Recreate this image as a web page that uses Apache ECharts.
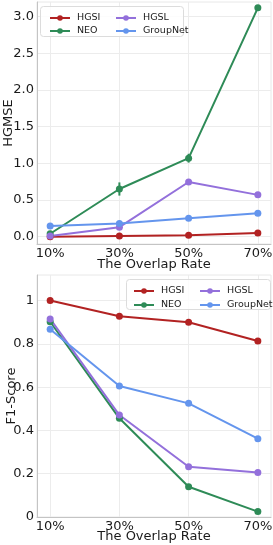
<!DOCTYPE html>
<html>
<head>
<meta charset="utf-8">
<script src="https://cdn.jsdelivr.net/npm/echarts@6/dist/echarts.min.js"></script>
<style>
html,body{margin:0;padding:0;background:#fff;}
#chart{width:273px;height:545px;}
</style>
</head>
<body>
<div id="chart"></div>
<script>
// ---- data ----
var categories = ['10%', '30%', '50%', '70%'];
var seriesNames = ['HGSI', 'NEO', 'HGSL', 'GroupNet'];

var hgmseHGSI = [0.0, 0.01, 0.02, 0.05];
var hgmseNEO = [0.04, 0.65, 1.07, 3.12];
var hgmseHGSL = [0.01, 0.13, 0.745, 0.57];
var hgmseGroupNet = [0.145, 0.18, 0.25, 0.32];
var hgmseNEOErr = [0.0, 0.09, 0.06, 0.0];

var f1HGSI = [1.0, 0.927, 0.90, 0.813];
var f1NEO = [0.902, 0.456, 0.14, 0.025];
var f1HGSL = [0.915, 0.471, 0.232, 0.206];
var f1GroupNet = [0.867, 0.605, 0.525, 0.362];

var xTicks = [0, 1, 2, 3];
var hgmseTicks = [0, 0.5, 1, 1.5, 2, 2.5, 3];
var hgmseTickLabels = ['0.0', '0.5', '1.0', '1.5', '2.0', '2.5', '3.0'];
var f1Ticks = [0, 0.2, 0.4, 0.6, 0.8, 1];
var f1TickLabels = ['0', '0.2', '0.4', '0.6', '0.8', '1'];

var xTitle = 'The Overlap Rate';
var yTitleTop = 'HGMSE';
var yTitleBottom = 'F1-Score';

// ---- styles ----
var colors = { HGSI: '#b22222', NEO: '#2e8b57', HGSL: '#9370db', GroupNet: '#6495ed' };
var FONT = 'DejaVu Sans';
var TXT = '#1a1a1a';
var FS = 13;

function pts(arr) { return arr.map(function (v, i) { return [i, v]; }); }
function lookup(vals, labels) {
  return function (v) {
    for (var i = 0; i < vals.length; i++) if (Math.abs(vals[i] - v) < 1e-9) return labels[i];
    return '';
  };
}

var chart = echarts.init(document.getElementById('chart'), null, { renderer: 'canvas' });

function xAxis(gi, gap) {
  return {
    type: 'value', gridIndex: gi, min: -0.19, max: 3.19,
    name: xTitle, nameLocation: 'middle', nameGap: gap, nameMoveOverlap: false,
    nameTextStyle: { fontFamily: FONT, fontSize: FS, color: TXT },
    axisLine: { show: true, onZero: false, lineStyle: { color: '#c4c4c4', width: 1 } },
    axisTick: { show: false, customValues: xTicks },
    axisLabel: { customValues: xTicks, margin: 3, fontFamily: FONT, fontSize: FS, color: TXT,
      formatter: function (v) { return categories[Math.round(v)]; } },
    splitLine: { show: true, lineStyle: { color: '#ececec', width: 1 } }
  };
}
function yAxis(gi, min, max, ticks, labels, name, gap) {
  return {
    type: 'value', gridIndex: gi, min: min, max: max,
    name: name, nameLocation: 'middle', nameGap: gap, nameRotate: 90, nameMoveOverlap: false,
    nameTextStyle: { fontFamily: FONT, fontSize: FS, color: TXT },
    axisLine: { show: true, onZero: false, lineStyle: { color: '#c4c4c4', width: 1 } },
    axisTick: { show: false, customValues: ticks },
    axisLabel: { customValues: ticks, margin: 3, fontFamily: FONT, fontSize: FS, color: TXT,
      formatter: lookup(ticks, labels) },
    splitLine: { show: true, lineStyle: { color: '#ececec', width: 1 } }
  };
}

function lineSeries(name, data, gi) {
  return {
    type: 'line', name: name, xAxisIndex: gi, yAxisIndex: gi,
    data: pts(data), symbol: 'circle', symbolSize: 7, showSymbol: true,
    lineStyle: { width: 2, color: colors[name] },
    itemStyle: { color: colors[name] },
    z: 3, animation: false
  };
}

var errData = hgmseNEO.map(function (v, i) { return [i, v, hgmseNEOErr[i]]; }).filter(function (d) { return d[2] > 0; });

var legendCommon = {
  orient: 'vertical', itemWidth: 20, itemHeight: 7, itemGap: 3,
  textStyle: { fontFamily: FONT, fontSize: 9.5, color: TXT, padding: [0, 0, 0, 2] },
  selectedMode: false, z: 10
};

var gridCommon = { left: 37, right: 2, height: 242, show: true, borderColor: '#e8e8e8', borderWidth: 1,
  backgroundColor: 'transparent', containLabel: false, outerBoundsMode: 'none' };

var option = {
  animation: false,
  backgroundColor: '#ffffff',
  grid: [
    Object.assign({}, gridCommon, { top: 2 }),
    Object.assign({}, gridCommon, { top: 275 })
  ],
  xAxis: [xAxis(0, 14), xAxis(1, 13)],
  yAxis: [
    yAxis(0, -0.1, 3.2, hgmseTicks, hgmseTickLabels, yTitleTop, 22),
    yAxis(1, 0, 1.118, f1Ticks, f1TickLabels, yTitleBottom, 19)
  ],
  graphic: [
    { type: 'rect', left: 40, top: 6, shape: { width: 143, height: 30, r: 3 },
      style: { fill: 'rgba(255,255,255,0.85)', stroke: '#dcdcdc', lineWidth: 1 }, z: 9 },
    { type: 'rect', left: 126, top: 279, shape: { width: 144, height: 30, r: 3 },
      style: { fill: 'rgba(255,255,255,0.85)', stroke: '#dcdcdc', lineWidth: 1 }, z: 9 }
  ],
  legend: [
    Object.assign({}, legendCommon, { left: 44, top: 8, data: ['HGSI', 'NEO'] }),
    Object.assign({}, legendCommon, { left: 110, top: 8, data: ['HGSL', 'GroupNet'] }),
    Object.assign({}, legendCommon, { left: 128, top: 281, itemGap: 4, data: ['HGSI', 'NEO'] }),
    Object.assign({}, legendCommon, { left: 194, top: 281, itemGap: 4, data: ['HGSL', 'GroupNet'] })
  ],
  series: [
    lineSeries('HGSI', hgmseHGSI, 0),
    lineSeries('NEO', hgmseNEO, 0),
    lineSeries('HGSL', hgmseHGSL, 0),
    lineSeries('GroupNet', hgmseGroupNet, 0),
    {
      type: 'custom', name: 'NEO-err', xAxisIndex: 0, yAxisIndex: 0, data: errData, z: 4,
      renderItem: function (params, api) {
        var x = api.value(0), y = api.value(1), e = api.value(2);
        var p1 = api.coord([x, y - e]), p2 = api.coord([x, y + e]);
        return { type: 'line', shape: { x1: p1[0], y1: p1[1], x2: p2[0], y2: p2[1] },
          style: { stroke: colors.NEO, lineWidth: 2 } };
      }
    },
    lineSeries('HGSI', f1HGSI, 1),
    lineSeries('NEO', f1NEO, 1),
    lineSeries('HGSL', f1HGSL, 1),
    lineSeries('GroupNet', f1GroupNet, 1)
  ]
};
chart.setOption(option);
</script>
</body>
</html>
